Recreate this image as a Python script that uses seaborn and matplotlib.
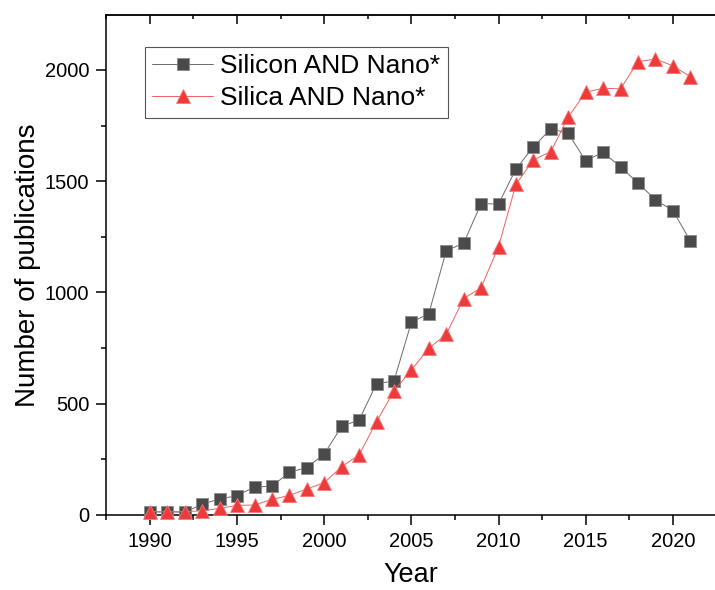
import matplotlib
matplotlib.use("Agg")
import matplotlib.pyplot as plt
import seaborn as sns
import pandas as pd
from matplotlib.ticker import MultipleLocator

# Yearly publication counts
years = list(range(1990, 2022))
silicon_nano = [12, 15, 12, 49, 72, 87, 126, 129, 192, 213,
                274, 398, 427, 590, 602, 866, 905, 1187, 1222, 1399,
                1398, 1555, 1654, 1736, 1715, 1592, 1630, 1564, 1492, 1417,
                1368, 1233]
silica_nano = [15, 15, 15, 19, 30, 43, 45, 70, 88, 117,
               145, 217, 270, 419, 557, 652, 749, 812, 972, 1022,
               1206, 1486, 1596, 1633, 1788, 1900, 1918, 1915, 2037, 2049,
               2019, 1970]
series_names = ["Silicon AND Nano*", "Silica AND Nano*"]

df = pd.DataFrame({"Year": years,
                   series_names[0]: silicon_nano,
                   series_names[1]: silica_nano})

sns.set_style("ticks")
plt.rcParams["font.family"] = ["Liberation Sans", "DejaVu Sans"]
plt.rcParams["text.color"] = "black"
plt.rcParams["axes.labelcolor"] = "black"
plt.rcParams["xtick.color"] = "black"
plt.rcParams["ytick.color"] = "black"

fig = plt.figure(figsize=(7.15, 5.90), dpi=100)
ax = fig.add_axes([106 / 715, 75 / 590, 609 / 715, 500 / 590])

sns.lineplot(data=df, x="Year", y=series_names[0], ax=ax,
             color="#6a6a6a", lw=0.7, marker="s", markersize=8.5,
             markerfacecolor="#4a4a4a", markeredgecolor="#8a8a8a",
             markeredgewidth=0.6, label=series_names[0], clip_on=False, zorder=3)
sns.lineplot(data=df, x="Year", y=series_names[1], ax=ax,
             color="#f06060", lw=0.7, marker="^", markersize=10,
             markerfacecolor="#ee3a3a", markeredgecolor="#f47a7a",
             markeredgewidth=0.6, label=series_names[1], clip_on=False, zorder=3)

ax.set_xlim(1987.48, 2022.42)
ax.set_ylim(0, 2247)
ax.xaxis.set_major_locator(MultipleLocator(5))
ax.xaxis.set_minor_locator(MultipleLocator(2.5))
ax.yaxis.set_major_locator(MultipleLocator(500))
ax.yaxis.set_minor_locator(MultipleLocator(250))

ax.set_xlabel("Year", fontsize=19.5, labelpad=8.5)
ax.set_ylabel("Number of publications", fontsize=20, labelpad=3)

for side in ["left", "bottom", "top"]:
    ax.spines[side].set_visible(True)
    ax.spines[side].set_linewidth(1.1)
    ax.spines[side].set_color("black")
ax.spines["right"].set_visible(False)

ax.tick_params(axis="both", which="major", direction="out", length=7,
               width=1.1, labelsize=14.5, color="black", labelcolor="black", pad=5)
ax.tick_params(axis="both", which="minor", direction="out", length=3.6,
               width=1.1, color="black")

# top axis ticks pointing inward, no labels
top = ax.secondary_xaxis("top")
top.xaxis.set_major_locator(MultipleLocator(5))
top.xaxis.set_minor_locator(MultipleLocator(2.5))
top.tick_params(which="major", direction="in", length=6.5, width=1.1, labeltop=False)
top.tick_params(which="minor", direction="in", length=3, width=1.1)
top.spines["top"].set_linewidth(1.1)

leg = ax.legend(loc="upper left", bbox_to_anchor=(0.064, 0.936), fontsize=19,
                frameon=True, fancybox=False, framealpha=1, edgecolor="#555555",
                borderpad=0.28, handlelength=2.3, handletextpad=0.28,
                labelspacing=0.3, borderaxespad=0)
leg.get_frame().set_linewidth(0.8)

fig.savefig("out.png", dpi=100)
